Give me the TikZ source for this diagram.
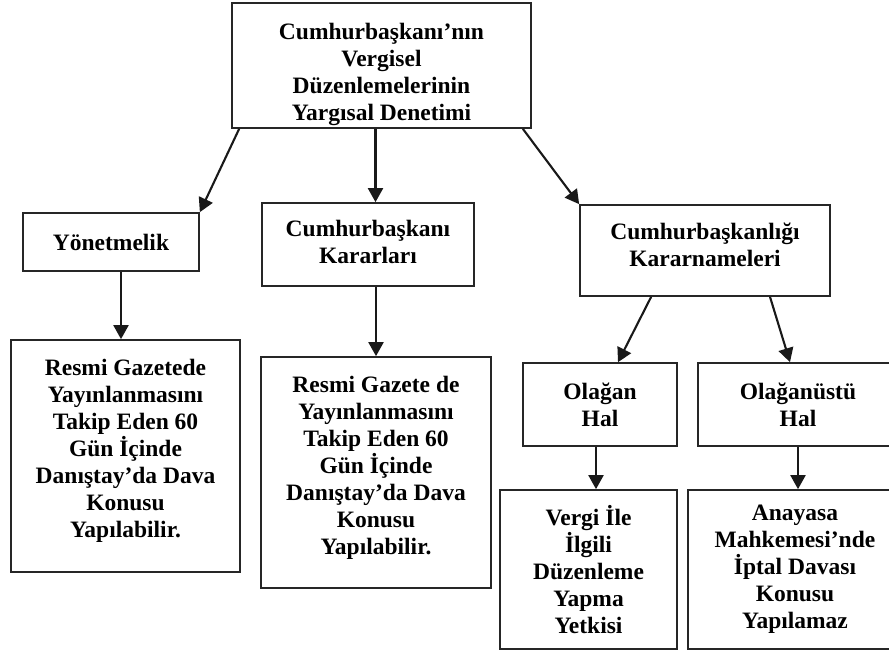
\documentclass[tikz,border=0pt]{standalone}
\usepackage{fontspec}
\setmainfont{Liberation Serif}
\usetikzlibrary{arrows.meta,positioning}

% invisible struts to move the text inside a box
\newcommand{\topgap}[1]{\rule{0pt}{#1}}
\newcommand{\botgap}[1]{\rule[-#1]{0pt}{#1}}

\begin{document}
\begin{tikzpicture}[x=1pt, y=-1pt,
		basic/.style  = {draw=black!85, line width=1.7pt, rectangle, inner sep=0pt, align=center,
			font=\bfseries\fontsize{23.5}{27}\selectfont},
		root/.style   = {basic, minimum width=299pt, minimum height=125pt},
		level 2/.style = {basic, minimum height=83pt},
		level 3/.style = {basic, minimum height=231pt},
		level 4/.style = {basic, minimum height=159pt},
		edge/.style = {->, draw=black!90, line width=2.1pt},
		>={Triangle[width=15pt,length=14pt]}]
		
		\useasboundingbox (0,0) rectangle (889,651);
		\clip (0,0) rectangle (889,651);
		
		% root of the tree
		\node[root] (top) at (381.5,65.5) {\topgap{35pt}Cumhurbaşkanı’nın\\Vergisel\\Düzenlemelerinin\\Yargısal Denetimi};
		
		% the first level
		\node[level 2, minimum width=176pt, minimum height=58pt] (c1) at (111,242) {Yönetmelik};
		\node[level 2, minimum width=212pt] (c2) at (368,244.5) {Cumhurbaşkanı\\Kararları\botgap{6pt}};
		\node[level 2, minimum width=250pt, minimum height=91pt] (c3) at (705,250.5) {Cumhurbaşkanlığı\\Kararnameleri\botgap{12pt}};
		
		% the second level
		\node[level 3, minimum width=229pt, minimum height=232pt] (c11) at (125.5,456) {Resmi Gazetede\\Yayınlanmasını\\Takip Eden 60\\Gün İçinde\\Danıştay’da Dava\\Konusu\\Yapılabilir.\botgap{15pt}};
		\node[level 3, minimum width=230pt] (c21) at (376,472.5) {Resmi Gazete de\\Yayınlanmasını\\Takip Eden 60\\Gün İçinde\\Danıştay’da Dava\\Konusu\\Yapılabilir.\botgap{15pt}};
		\node[level 2, minimum width=154pt] (c31) at (600,404.5) {Olağan\\Hal};
		\node[level 2, minimum width=200pt] (c32) at (798,404.5) {Olağanüstü\\Hal};
		
		% the third level
		\node[level 4, minimum width=177pt] (c311) at (588.5,569.5) {Vergi İle\\İlgili\\Düzenleme\\Yapma\\Yetkisi};
		\node[level 4, minimum width=214pt] (c321) at (795,569.5) {Anayasa\\Mahkemesi’nde\\İptal Davası\\Konusu\\Yapılamaz};
		
		% arrows from the root
		\draw[edge] ([xshift=8pt]top.south west) -- (c1.north east);
		\draw[edge] ([xshift=-6pt]top.south) -- ([xshift=-6pt]top.south |- c2.north);
		\draw[edge] ([xshift=-9pt]top.south east) -- (c3.north west);
		
		% arrows to the lower boxes
		\draw[edge] ([xshift=10pt]c1.south) -- ([xshift=10pt]c1.south |- c11.north);
		\draw[edge] (c21.north |- c2.south) -- (c21.north);
		\draw[edge] ([xshift=72pt]c3.south west) -- ([xshift=18pt]c31.north);
		\draw[edge] ([xshift=65pt]c3.south) -- ([xshift=-8pt]c32.north);
		\draw[edge] ([xshift=-4pt]c31.south) -- ([xshift=-4pt]c31.south |- c311.north);
		\draw[edge] (c32.south) -- (c32.south |- c321.north);
		
	\end{tikzpicture}
\end{document}
